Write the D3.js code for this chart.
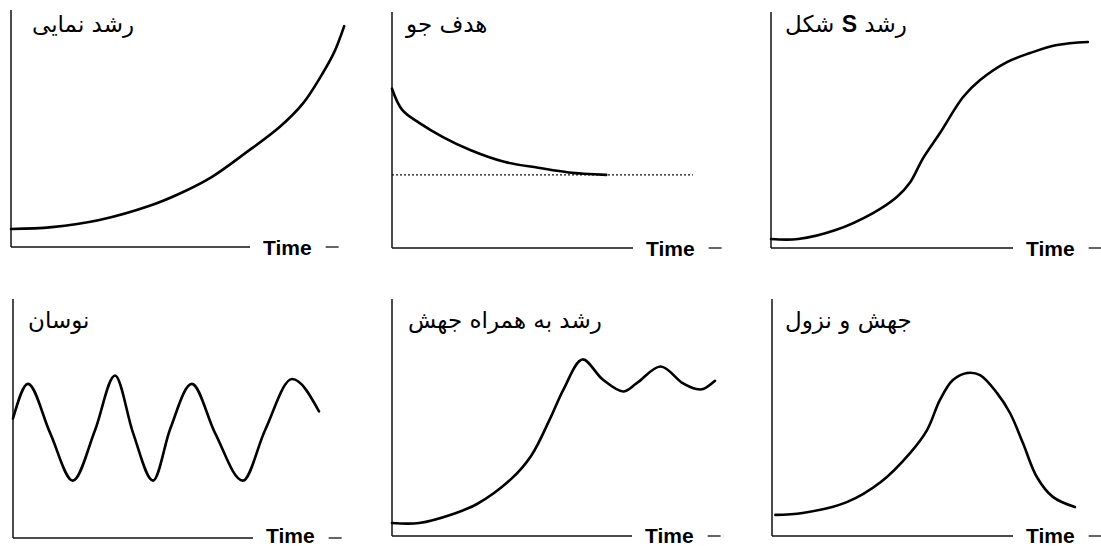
<!DOCTYPE html>
<html>
<head>
<meta charset="utf-8">
<script src="https://cdn.jsdelivr.net/npm/d3@7"></script>
<style>
  html, body { margin: 0; padding: 0; background: #fff; }
  svg { display: block; }
</style>
</head>
<body>
<svg id="chart" width="1101" height="546"></svg>
<script>
// ---------- data (time 0..100, value 0..100 of each panel) ----------
const titles = ["رشد نمایی", "هدف جو", "رشد S شکل", "نوسان", "رشد به همراه جهش", "جهش و نزول"];
const axisLabel = "Time";

const expT = [0, 12, 26, 41, 50, 59, 69, 79, 86, 91, 95, 98];
const expV = [7.6, 8.4, 11.4, 17.5, 22.8, 29.5, 39.7, 50.6, 60.8, 71.7, 82, 93.2];

const goalT = [0, 3, 8, 15, 23, 33, 43, 52, 63];
const goalV = [67.5, 58.5, 53, 47, 41.5, 36.5, 34, 32, 31];
const goalLevel = 31;
const goalLineEnd = 88.5;

const sT = [0, 8, 19, 30, 37, 41, 44.7, 49.7, 56.5, 61.5, 69.4, 76.2, 84.1, 93.2];
const sV = [3.8, 3.8, 7.6, 14.8, 21.6, 28, 38, 48.7, 64, 71.2, 78.8, 82.6, 86, 87.3];

const oscT = [0, 4.4, 10.9, 17.6, 24.1, 30, 35.3, 41.2, 46.2, 52.6, 59.4, 67.6, 74.1, 82.1, 90];
const oscV = [50, 64.5, 44, 24, 45, 68, 44, 24, 45.5, 64.5, 44, 24, 45, 66.5, 53];

const overT = [0, 8, 18, 25, 35, 41, 46.5, 50.5, 56, 62, 68, 72, 79, 85.5, 89.5, 91.5, 95];
const overV = [5.5, 5.5, 9.3, 13.5, 24, 34, 49.5, 62, 74.5, 66, 61, 64.5, 71.5, 64.5, 62, 62, 65.5];

const collT = [1, 9, 22, 32, 40.6, 45.6, 49.4, 53.2, 57.4, 61.2, 66.2, 70, 73.8, 77.9, 82.6, 89.1];
const collV = [8.9, 9.7, 14.3, 22.8, 35, 44.7, 57.4, 65.8, 68.8, 67.9, 60.3, 51.9, 39.2, 24.9, 16.5, 12.2];

const seriesList = [
  {t: expT, v: expV},
  {t: goalT, v: goalV},
  {t: sT, v: sV},
  {t: oscT, v: oscV},
  {t: overT, v: overV},
  {t: collT, v: collV}
];

// ---------- layout ----------
const layout = [
  {x0: 11,  y0: 247, top: 10,  end: 250,  titleY: 32, titleDx: 21, labY: 255},
  {x0: 392, y0: 248, top: 12,  end: 633,  titleY: 32, titleDx: 13, labY: 256},
  {x0: 771, y0: 248, top: 12,  end: 1013, titleY: 32, titleDx: 14, labY: 256},
  {x0: 13,  y0: 538, top: 299, end: 253,  titleY: 328, titleDx: 15, labY: 543},
  {x0: 392, y0: 536, top: 299, end: 632,  titleY: 328, titleDx: 16, labY: 543},
  {x0: 772, y0: 536, top: 299, end: 1013, titleY: 328, titleDx: 13, labY: 543}
];

const svg = d3.select("#chart");
svg.append("rect").attr("width", 1101).attr("height", 546).attr("fill", "#fff");

layout.forEach((L, i) => {
  const g = svg.append("g");
  const x = d3.scaleLinear().domain([0, 100]).range([L.x0, L.x0 + 340]);
  const y = d3.scaleLinear().domain([0, 100]).range([L.y0, L.top]);

  // axes
  g.append("line").attr("x1", L.x0).attr("x2", L.x0).attr("y1", L.top).attr("y2", L.y0)
    .attr("stroke", "#111").attr("stroke-width", 1.5);
  g.append("line").attr("x1", L.x0).attr("x2", L.end).attr("y1", L.y0).attr("y2", L.y0)
    .attr("stroke", "#111").attr("stroke-width", 1.5);

  const lab = g.append("text").attr("x", L.end + 13).attr("y", L.labY)
    .attr("font-family", "Liberation Sans, Arial, sans-serif").attr("font-weight", "bold")
    .attr("font-size", 21).attr("fill", "#000").text(axisLabel);
  const lw = lab.node().getComputedTextLength();
  g.append("line").attr("x1", L.end + 13 + lw + 14).attr("x2", L.end + 13 + lw + 27)
    .attr("y1", L.y0).attr("y2", L.y0).attr("stroke", "#111").attr("stroke-width", 1.3);

  // title
  const tt = g.append("text").attr("y", L.titleY).attr("x", 0)
    .attr("font-family", "DejaVu Sans, sans-serif").attr("font-size", 23)
    .attr("direction", "rtl").attr("fill", "#000");
  if (i === 2) {
    tt.append("tspan").text("رشد ");
    tt.append("tspan").attr("font-family", "Liberation Sans, Arial, sans-serif")
      .attr("font-weight", "bold").text("S");
    tt.append("tspan").text(" شکل");
  } else {
    tt.text(titles[i]);
  }
  const bb = tt.node().getBBox();
  tt.attr("transform", `translate(${L.x0 + L.titleDx - bb.x},0)`);

  // goal line
  if (i === 1) {
    g.append("line").attr("x1", x(0)).attr("x2", x(goalLineEnd))
      .attr("y1", y(goalLevel)).attr("y2", y(goalLevel))
      .attr("stroke", "#111").attr("stroke-width", 1.1).attr("stroke-dasharray", "2,2");
  }

  const s = seriesList[i];
  const pts = s.t.map((t, k) => [t, s.v[k]]);
  const curve = (i === 3) ? d3.curveMonotoneX : d3.curveCatmullRom.alpha(0.5);
  const line = d3.line().x(d => x(d[0])).y(d => y(d[1])).curve(curve);
  g.append("path").attr("d", line(pts)).attr("fill", "none")
    .attr("stroke", "#000").attr("stroke-width", 2.6).attr("stroke-linejoin", "round")
    .attr("stroke-linecap", "round");
});
</script>
</body>
</html>
